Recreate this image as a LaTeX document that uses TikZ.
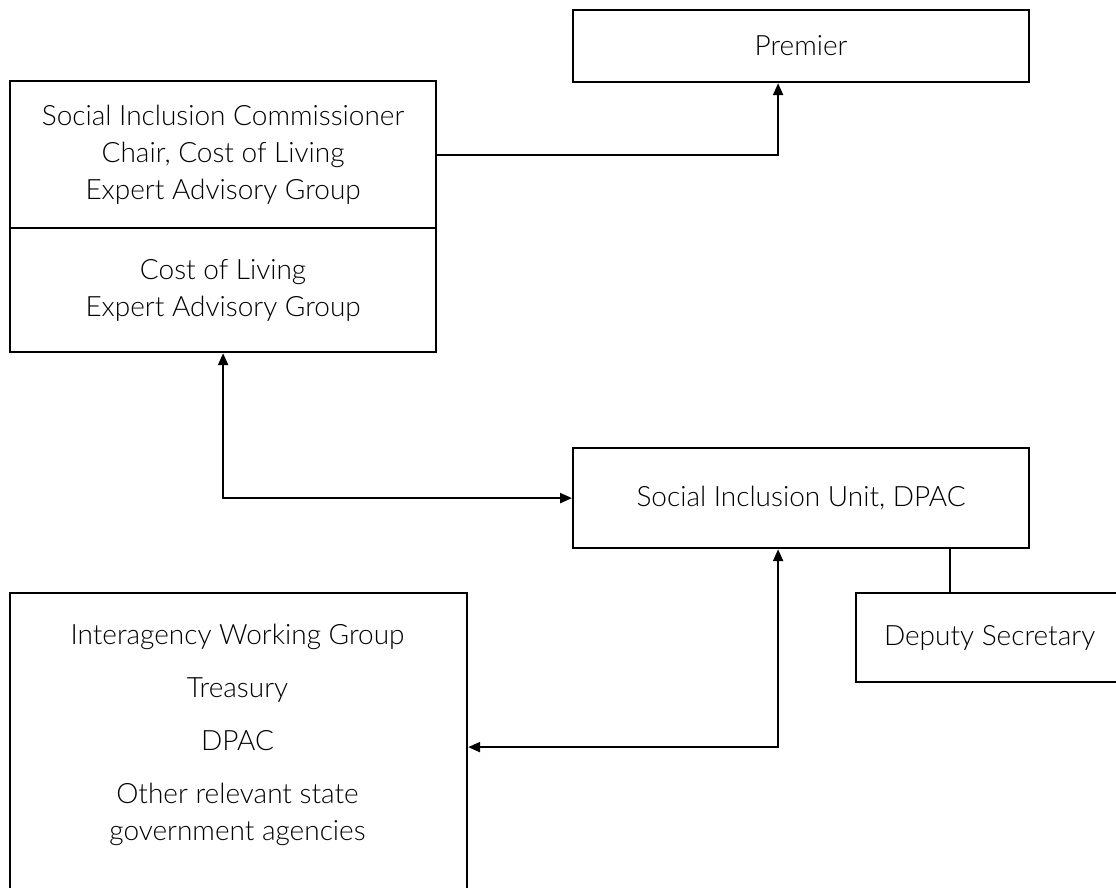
\documentclass[tikz,border=0pt]{standalone}
\usepackage{fontspec}
\setmainfont{Lato Light}
\usetikzlibrary{arrows.meta,calc}
\begin{document}
\begin{tikzpicture}[x=1pt,y=1pt,
  box/.style={draw, line width=2.2pt, inner sep=0pt, anchor=north west},
  txt/.style={align=center, font=\fontsize{28}{37}\selectfont},
  arr/.style={line width=2.2pt, -{Triangle[length=12pt,width=10pt]}},
  arrb/.style={line width=2.2pt, {Triangle[length=12pt,width=10pt]}-{Triangle[length=12pt,width=10pt]}},
  link/.style={line width=2.2pt}]
\useasboundingbox (0,0) rectangle (1116,-888);
\clip (0,0) rectangle (1116,-888);

\node[box, txt, minimum width=456pt, minimum height=72pt] (premier) at (572,-9) {Premier};
\node[box, txt, minimum width=426pt, minimum height=147pt] (chair) at (9,-80)
  {Social Inclusion Commissioner\\Chair, Cost of Living\\Expert Advisory Group};
\node[box, txt, minimum width=426pt, minimum height=124pt] (eag) at (9,-227)
  {Cost of Living\\Expert Advisory Group};
\node[box, txt, minimum width=456pt, minimum height=100pt] (siu) at (572,-447)
  {Social Inclusion Unit, DPAC};
\node[box, txt, minimum width=267pt, minimum height=89pt] (ds) at (855,-592)
  {Deputy Secretary};
\node[box, minimum width=457pt, minimum height=308pt] (iwg) at (9,-592) {};
\node[txt] (iwgtext) at (237.5,-735)
  {Interagency Working Group\\[16pt]Treasury\\[16pt]DPAC\\[16pt]Other relevant state\\government agencies};

\draw[arr] (chair.east) -| ([xshift=-23pt]premier.south);
\draw[arrb] (eag.south) |- (siu.west);
\draw[arrb] ([xshift=-23pt]siu.south) |- (iwg.east);
\draw[link] ([xshift=149pt]siu.south) -- ([xshift=149pt]siu.south |- ds.north);
\end{tikzpicture}
\end{document}
